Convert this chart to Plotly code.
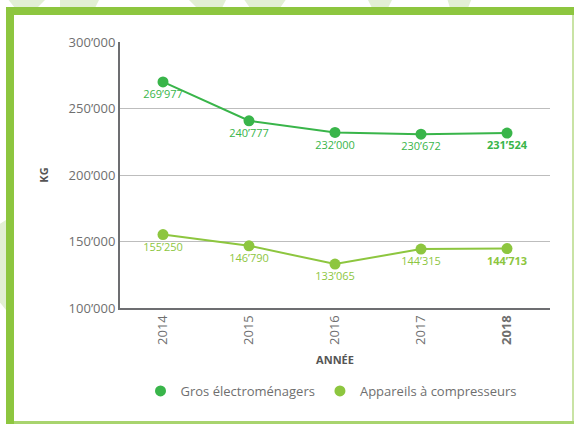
import plotly.graph_objects as go

years = ["2014", "2015", "2016", "2017", "2018"]
year_labels = ["2014", "2015", "2016", "2017", "<b>2018</b>"]
gros = [269977, 240777, 232000, 230672, 231524]
compresseurs = [155250, 146790, 133065, 144315, 144713]
gros_labels = ["269’977", "240’777", "232’000", "230’672", "<b>231’524</b>"]
comp_labels = ["155’250", "146’790", "133’065", "144’315", "<b>144’713</b>"]
y_ticks = [100000, 150000, 200000, 250000, 300000]
y_ticklabels = ["100’000", "150’000", "200’000", "250’000", "300’000"]
series_names = ["Gros électroménagers", "Appareils à compresseurs"]

DARK = "#39b54a"
LIGHT = "#8dc63f"
FONT = "Open Sans"
TICK = "#6f6f6f"

fig = go.Figure()
for vals, labels, col in [(gros, gros_labels, DARK), (compresseurs, comp_labels, LIGHT)]:
    fig.add_trace(go.Scatter(
        x=years, y=vals, mode="lines+markers+text",
        line=dict(color=col, width=2), marker=dict(color=col, size=11),
        text=labels, textposition="bottom center",
        textfont=dict(color=col, size=11, family=FONT),
        showlegend=False, hoverinfo="skip", cliponaxis=False))
for name, col in zip(series_names, [DARK, LIGHT]):
    fig.add_trace(go.Scatter(x=[None], y=[None], mode="markers", name=name,
                             marker=dict(color=col, size=11)))

W, H = 574, 424
L, R, T, B = 120, 24, 42, 116
pw, ph = W - L - R, H - T - B


def px(x):
    return (x - L) / pw


def py(y):
    return (H - B - y) / ph


def poly(points, color):
    d = "M " + " L ".join(f"{px(x):.5f},{py(y):.5f}" for x, y in points) + " Z"
    return dict(type="path", xref="paper", yref="paper", layer="below", path=d,
                fillcolor=color, line=dict(width=0))


FAINT = "#e2efd4"
shapes = []
# faint decorative background shapes peeking outside the frame
for x0, x1, b0, b1 in [(7, 47, 15, 37), (60, 100, 60, 95), (187, 227, 197, 222),
                       (243, 287, 250, 280), (367, 393, 372, 388), (447, 472, 450, 468)]:
    shapes.append(poly([(x0, -2), (x1, -2), (b1, 8), (b0, 8)], FAINT))
shapes.append(poly([(-2, 225), (6, 220), (6, 310), (-2, 300)], FAINT))
# frame
shapes.append(poly([(6, 7), (14, 7), (14, 426), (6, 426)], LIGHT))
shapes.append(poly([(6, 7), (576, 7), (576, 15), (6, 15)], LIGHT))
shapes.append(poly([(572, 15), (576, 15), (576, 426), (572, 426)], "#c9e3a5"))
shapes.append(poly([(14, 421), (576, 421), (576, 426), (14, 426)], "#a8d46e"))

fig.update_layout(
    width=W, height=H,
    margin=dict(l=L, r=R, t=T, b=B),
    paper_bgcolor="white", plot_bgcolor="rgba(0,0,0,0)",
    font=dict(family=FONT, color=TICK, size=12),
    shapes=shapes,
    showlegend=True,
    legend=dict(orientation="h", x=0.5 - 4 / pw, xanchor="center", y=-0.312, yanchor="middle",
                font=dict(size=13, color=TICK, family=FONT),
                itemwidth=30, bgcolor="rgba(0,0,0,0)"),
    xaxis=dict(
        type="category", range=[-0.5, 4.5],
        tickvals=years, ticktext=year_labels, tickangle=-90,
        tickfont=dict(size=13, color=TICK),
        showline=True, linecolor="#6d6e71", linewidth=2,
        showgrid=False, ticks="",
        title=dict(text="<b>ANNÉE</b>", font=dict(size=11, color="#555555"), standoff=12),
    ),
    yaxis=dict(
        range=[100000, 300000],
        tickvals=y_ticks, ticktext=y_ticklabels,
        tickfont=dict(size=13, color=TICK),
        showline=True, linecolor="#6d6e71", linewidth=2,
        showgrid=True, gridcolor="#bdbdbd", gridwidth=1,
        zeroline=False, ticks="",
        title=dict(text="<b>KG</b>", font=dict(size=11, color="#555555"), standoff=18),
    ),
)

fig.write_html("out.html", config={"displayModeBar": False},
               post_script="document.body.style.margin='0';document.body.style.overflow='hidden';")
